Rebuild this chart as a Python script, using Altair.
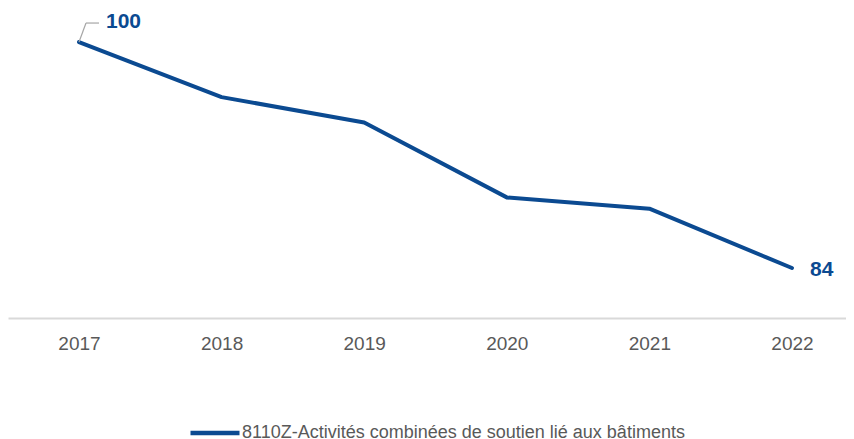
import altair as alt
import pandas as pd

years = [2017, 2018, 2019, 2020, 2021, 2022]
values = [100, 96.1, 94.3, 89.0, 88.2, 84]
series = "8110Z-Activités combinées de soutien lié aux bâtiments"
label_years = [2017, 2022]
label_texts = ["100", "84"]

BLUE = "#0b4a91"
GREY = "#595959"
FONT = "Liberation Sans"

df = pd.DataFrame({"year": years, "value": values, "series": [series] * len(years)})
lab = pd.DataFrame({"year": label_years, "value": [values[0], values[-1]], "text": label_texts})

xscale = alt.Scale(domain=[2016.502, 2022.379], nice=False, zero=False)
yscale = alt.Scale(domain=[80.46, 102.41], nice=False, zero=False)

x = alt.X("year:Q", scale=xscale, title=None,
          axis=alt.Axis(values=years, format="d", grid=False, ticks=False,
                        domainColor="#d9d9d9", domainWidth=2,
                        labelColor=GREY, labelFontSize=19, labelFont=FONT,
                        labelPadding=16))
y = alt.Y("value:Q", scale=yscale, axis=None)

line = alt.Chart(df).mark_line(strokeWidth=4, strokeCap="round", strokeJoin="round").encode(
    x=x, y=y,
    color=alt.Color("series:N", scale=alt.Scale(range=[BLUE]),
                    legend=alt.Legend(title=None, orient="none", legendX=180, legendY=398,
                                      padding=0, labelLimit=800,
                                      symbolType="stroke", symbolSize=2401, symbolStrokeWidth=4.5,
                                      labelFontSize=18, labelFont=FONT, labelColor=GREY,
                                      labelOffset=0))
)

first = lab[lab.year == 2017]
last = lab[lab.year == 2022]

lead1 = alt.Chart(first).mark_rule(color="#a6a6a6", strokeWidth=1.2, x2Offset=7, y2Offset=-19).encode(
    x="year:Q", y="value:Q", x2="year:Q", y2="value:Q")
lead2 = alt.Chart(first).mark_rule(color="#a6a6a6", strokeWidth=1.2, xOffset=7, yOffset=-19,
                                   x2Offset=20, y2Offset=-19).encode(
    x="year:Q", y="value:Q", x2="year:Q", y2="value:Q")

t1 = alt.Chart(first).mark_text(align="left", baseline="middle", dx=27, dy=-20, fontSize=21,
                                fontWeight="bold", font=FONT, color=BLUE).encode(
    x="year:Q", y="value:Q", text="text:N")
t2 = alt.Chart(last).mark_text(align="left", baseline="middle", dx=18, dy=2, fontSize=21,
                               fontWeight="bold", font=FONT, color=BLUE).encode(
    x="year:Q", y="value:Q", text="text:N")

chart = alt.layer(line, lead1, lead2, t1, t2).properties(
    width=838, height=310, padding=0
).configure(background="white", view=alt.ViewConfig(stroke=None))

chart.save("out.html", embed_options={"renderer": "svg", "actions": False})
